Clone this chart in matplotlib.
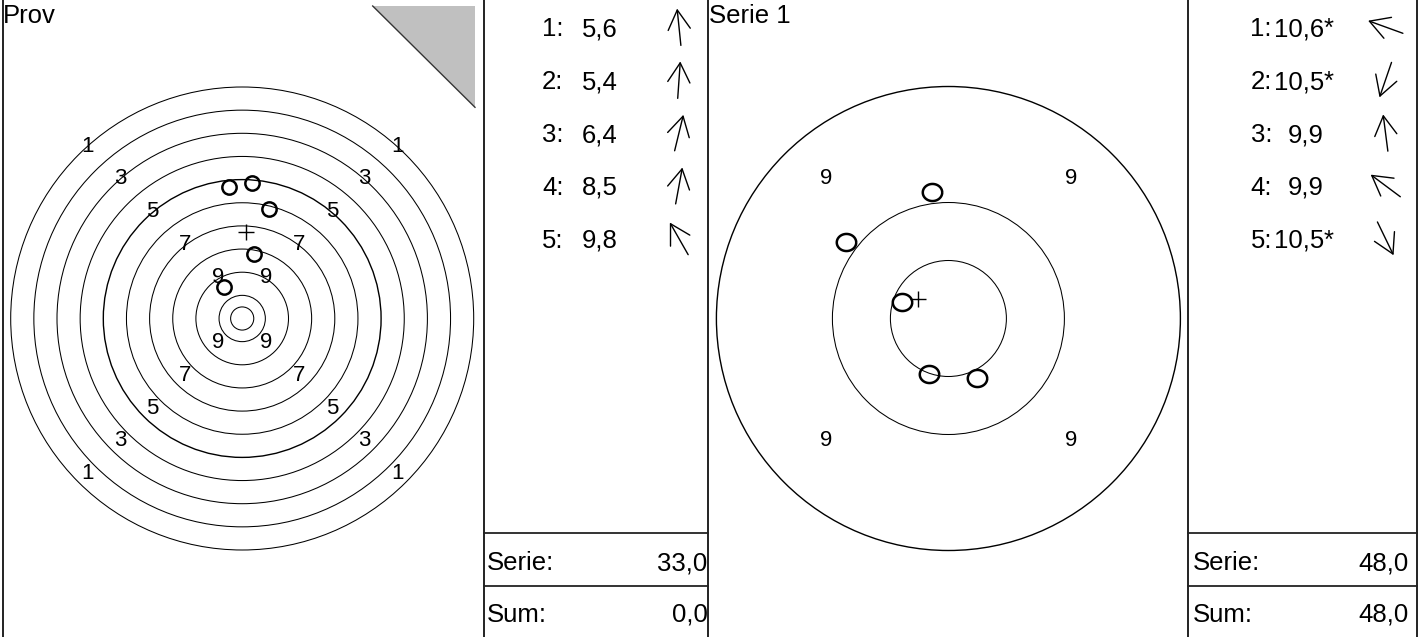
import numpy as np
import matplotlib.pyplot as plt
from matplotlib.patches import Circle, Polygon
from matplotlib.path import Path

plt.rcParams['font.family'] = ['Liberation Sans', 'DejaVu Sans']

W, H = 1423, 637

# Provskott: position i ringbredder (y uppat), poang
prov_x = [-0.58, 0.41, 1.15, 0.51, -0.77]
prov_y = [5.67, 5.87, 4.73, 2.77, 1.35]
prov_poang = [5.6, 5.4, 6.4, 8.5, 9.8]
prov_inner = [False, False, False, False, False]
prov_mpi = (0.15, 3.75)

# Serie 1
serie_x = [-0.40, -0.165, -0.14, -0.885, 0.25]
serie_y = [0.145, -0.48, 1.09, 0.66, -0.515]
serie_poang = [10.6, 10.5, 9.9, 9.9, 10.5]
serie_inner = [True, True, False, False, True]
serie_mpi = (-0.26, 0.17)

titlar = ['Prov', 'Serie 1']
raknas = [False, True]   # provserien raknas inte i summan


def komma(v):
    return f"{v:.1f}".replace('.', ',')


fig = plt.figure(figsize=(W / 100, H / 100), dpi=100)


def px_axes(x0, x1, y0=0, y1=H):
    return fig.add_axes([x0 / W, 1 - y1 / H, (x1 - x0) / W, (y1 - y0) / H])


# ellips-markor for skotten i zoomad tavla
t = np.linspace(0, 2 * np.pi, 60)
ellips = Path(np.column_stack([np.cos(t), 0.88 * np.sin(t)]))

halvor = [
    dict(tx0=2.7, tx1=484, cx=242.2, skala=23.15, ringar=[10, 9, 8, 7, 6, 5, 4, 3, 2, 1, 0.5],
         tjock=6, etiketter=[(1, 10), (3, 8), (5, 6), (7, 4), (9, 2)], marker='o', ms=10.3,
         lx0=484, lx1=708.3, txt=486.5, kolon=563.5, varde=617.5, pil=679, tot=707.5),
    dict(tx0=708.3, tx1=1187.5, cx=948.4, skala=116.0, ringar=[2, 1, 0.5],
         tjock=2, etiketter=[(9, 1.595)], marker=ellips, ms=14,
         lx0=1187.5, lx1=1417, txt=1193, kolon=1272, varde=1324, pil=1385.5, tot=1408.5),
]
skott = [(prov_x, prov_y, prov_poang, prov_inner, prov_mpi),
         (serie_x, serie_y, serie_poang, serie_inner, serie_mpi)]

cy = 318.5

# ram-axlar i pixelkoordinater for linjer och listtext
ram = fig.add_axes([0, 0, 1, 1], zorder=5)
ram.set_xlim(0, W)
ram.set_ylim(H, 0)
ram.axis('off')

summa = 0.0
for h, (xs, ys, poang, inner, mpi), titel, rakna in zip(halvor, skott, titlar, raknas):
    ax = px_axes(h['tx0'], h['tx1'])
    s = h['skala']
    ax.set_xlim((h['tx0'] - h['cx']) / s, (h['tx1'] - h['cx']) / s)
    ax.set_ylim((cy - H) / s, cy / s)
    ax.axis('off')

    for r in h['ringar']:
        lw = 1.0 if r == h['tjock'] else 0.75
        ax.add_patch(Circle((0, 0), r, fill=False, ec='black', lw=lw))

    for ring, r in h['etiketter']:
        for sx in (-1, 1):
            for sy in (-1, 1):
                ax.annotate(str(ring), (sx * r / np.sqrt(2), sy * r / np.sqrt(2)),
                            xytext=(-sx * 8.6, 3.2), textcoords='offset pixels',
                            ha='center', va='baseline', fontsize=16)

    ax.plot(xs, ys, linestyle='none', marker=h['marker'], ms=h['ms'],
            mfc='none', mec='black', mew=1.8)
    ax.plot([mpi[0]], [mpi[1]], marker='+', ms=11, mew=1.0, color='black')

    # titel
    ram.text(h['tx0'] + 0.3, 23.3, titel, ha='left', va='baseline', fontsize=18.5)

    # skottlista
    for i, (x, y, p, inn) in enumerate(zip(xs, ys, poang, inner)):
        rad = 27 + 52.9 * i
        bas = rad + 9.2
        ram.text(h['kolon'], bas, f"{i + 1}:", ha='right', va='baseline', fontsize=18.5)
        ram.text(h['varde'], bas, komma(p), ha='right', va='baseline', fontsize=18.5)
        if inn:
            ram.text(h['varde'], bas, '*', ha='left', va='baseline', fontsize=18.5)
        n = np.hypot(x, y)
        ux, uy = x / n, y / n
        L = 37
        ram.annotate('', xy=(h['pil'] + ux * L / 2, rad - uy * L / 2),
                     xytext=(h['pil'] - ux * L / 2, rad + uy * L / 2),
                     arrowprops=dict(arrowstyle='->,head_length=1.4,head_width=0.8',
                                     mutation_scale=10, lw=1.0, color='black',
                                     shrinkA=0, shrinkB=0))

    serie = float(sum(int(p) for p in poang))
    if rakna:
        summa += serie
    ram.text(h['txt'], 570, 'Serie:', ha='left', va='baseline', fontsize=18.5)
    ram.text(h['tot'], 570, komma(serie), ha='right', va='baseline', fontsize=18.5)
    ram.text(h['txt'], 621.7, 'Sum:', ha='left', va='baseline', fontsize=18.5)
    ram.text(h['tot'], 621.7, komma(summa), ha='right', va='baseline', fontsize=18.5)

    for yl in (533.3, 585.7):
        ram.plot([h['lx0'], h['lx1']], [yl, yl], color='#333333', lw=1.4)

# provmarkering (gra triangel)
ram.add_patch(Polygon([(372.7, 6), (475, 6), (475, 107.3)], closed=True,
                      fc='#c0c0c0', ec='none'))
ram.plot([372.7, 475], [6, 107.3], color='#333333', lw=1.0)

for xb in (2.7, 484, 708.3, 1187.5, 1417):
    ram.plot([xb, xb], [0, H], color='#222222', lw=1.4)

fig.savefig('out.png', dpi=100)
